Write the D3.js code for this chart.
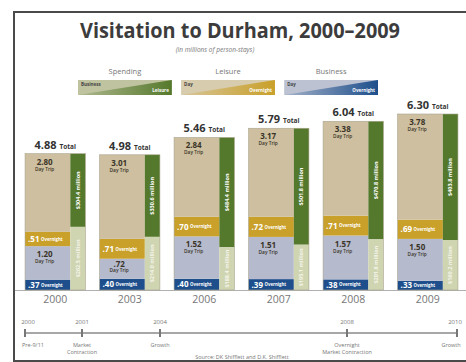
<!DOCTYPE html>
<html><head><meta charset="utf-8">
<script src="https://cdn.jsdelivr.net/npm/d3@7"></script>
<style>body{margin:0;background:#fff;overflow:hidden}svg{display:block}</style>
</head><body><svg id="c" width="466" height="362"></svg>
<script>
const years = ["2000","2003","2006","2007","2008","2009"];
const leisureDay = [2.80,3.01,2.84,3.17,3.38,3.78];
const leisureOvernight = [0.51,0.71,0.70,0.72,0.71,0.69];
const businessDay = [1.20,0.72,1.52,1.51,1.57,1.50];
const businessOvernight = [0.37,0.40,0.40,0.39,0.38,0.33];
const totals = ["4.88","4.98","5.46","5.79","6.04","6.30"];
const leisureSpending = [304.4,330.6,484.4,501.8,470.8,403.8];
const businessSpending = [262.5,214.0,188.4,195.1,201.8,160.2];
const timelineYears = [2000,2001,2004,2008,2010];
const timelineEvents = [["Pre-9/11"],["Market","Contraction"],["Growth"],["Overnight","Market Contraction"],["Growth"]];
const legendGroups = ["Spending","Leisure","Business"];
const legendTexts = [["Business","Leisure"],["Day","Overnight"],["Day","Overnight"]];

const C = {
  beige:"#cdbf9f", gold:"#c9a02a", greyblue:"#b5bacd", blue:"#1e4f8c",
  dgreen:"#55792c", lgreen:"#cfd5b1", text:"#3a3428", grey:"#666"
};
const FONT = "'Open Sans', 'Noto Sans', sans-serif";
const svg = d3.select("#c").style("font-family", FONT);

// frame (left, top, bottom edges)
const frame = svg.append("g").attr("stroke","#4a4a4a").attr("stroke-width",2);
frame.append("line").attr("x1",14).attr("x2",14).attr("y1",12).attr("y2",362);
frame.append("line").attr("x1",13).attr("x2",466).attr("y1",12).attr("y2",12);
frame.append("line").attr("x1",13).attr("x2",466).attr("y1",361).attr("y2",361);

// title
svg.append("text").attr("x",240).attr("y",38).attr("text-anchor","middle")
  .attr("font-size",21).attr("font-weight",700).attr("fill","#3c3c3c")
  .attr("textLength",320).attr("lengthAdjust","spacingAndGlyphs")
  .text("Visitation to Durham, 2000–2009");
svg.append("text").attr("x",215).attr("y",52).attr("text-anchor","middle")
  .attr("font-size",6.5).attr("font-style","italic").attr("fill","#777")
  .text("(in millions of person-stays)");

// legend
const defs = svg.append("defs");
const legendColors = [["#bfc3a0",C.dgreen],["#d8ccae",C.gold],["#bcc2d2",C.blue]];
const legendX = d3.scaleBand().domain(legendGroups).range([78,378]).paddingInner(0.09);
legendGroups.forEach((g,i)=>{
  const x0 = legendX(g), w = legendX.bandwidth(), y0 = 80, h = 15;
  const gid = "lg"+i;
  const grad = defs.append("linearGradient").attr("id",gid);
  grad.append("stop").attr("offset","0%").attr("stop-color",legendColors[i][1]).attr("stop-opacity",0.15);
  grad.append("stop").attr("offset","100%").attr("stop-color",legendColors[i][1]).attr("stop-opacity",1);
  svg.append("text").attr("x",x0+w/2).attr("y",74).attr("text-anchor","middle")
    .attr("font-size",7.5).attr("fill","#777").text(g);
  svg.append("rect").attr("x",x0).attr("y",y0).attr("width",w).attr("height",h)
    .attr("fill",legendColors[i][0]);
  svg.append("polygon").attr("points",`${x0},${y0+h} ${x0+w},${y0} ${x0+w},${y0+h}`)
    .attr("fill",`url(#${gid})`);
  svg.append("text").attr("x",x0+3).attr("y",y0+6).attr("font-size",4.5)
    .attr("font-weight",700).attr("fill","#444").text(legendTexts[i][0]);
  svg.append("text").attr("x",x0+w-3).attr("y",y0+h-3).attr("font-size",4.5)
    .attr("font-weight",700).attr("text-anchor","end").attr("fill","#fff").text(legendTexts[i][1]);
});

// scales
const x = d3.scaleBand().domain(years).range([17.6,465.4]).paddingInner(0.19).paddingOuter(0.1);
const y = d3.scaleLinear().domain([0,6.30]).range([290,114]);
const bw = x.bandwidth(), mainW = bw*0.75, sideW = bw - mainW;

const rows = years.map((yr,i)=>({year:yr, bo:businessOvernight[i], bd:businessDay[i], lo:leisureOvernight[i], ld:leisureDay[i], i}));
const keys = ["bo","bd","lo","ld"];
const fills = {bo:C.blue, bd:C.greyblue, lo:C.gold, ld:C.beige};
const series = d3.stack().keys(keys)(rows);

// baseline
svg.append("line").attr("x1",15).attr("x2",466).attr("y1",y(0)+0.5).attr("y2",y(0)+0.5)
  .attr("stroke","#b0b0b0").attr("stroke-width",1);

const fmt = v => d3.format(".2f")(v).replace(/^0/,"");

series.forEach(s=>{
  const k = s.key;
  s.forEach(d=>{
    const x0 = x(d.data.year), yt = y(d[1]), yb = y(d[0]);
    svg.append("rect").attr("x",x0).attr("y",yt).attr("width",mainW).attr("height",yb-yt)
      .attr("fill",fills[k]);
    const val = d.data[k];
    if (k==="ld" || k==="bd") {
      const cx = x0 + mainW/2 - 3;
      svg.append("text").attr("x",cx).attr("y",yt+ (yb-yt<25?8:11)).attr("text-anchor","middle")
        .attr("font-size",8).attr("font-weight",700).attr("fill",C.text).text(fmt(val));
      svg.append("text").attr("x",cx).attr("y",yt+(yb-yt<25?13.5:17)).attr("text-anchor","middle")
        .attr("font-size",4.8).attr("font-weight",600).attr("fill",C.text).text("Day Trip");
    } else {
      const cy = (yt+yb)/2;
      svg.append("text").attr("x",x0+3).attr("y",cy+3).attr("font-size",8)
        .attr("font-weight",700).attr("fill","#fff").text(fmt(val));
      svg.append("text").attr("x",x0+16).attr("y",cy+1.8).attr("font-size",4.3)
        .attr("font-weight",700).attr("fill","#fff").text("Overnight");
    }
  });
});

// spending columns + totals + years
rows.forEach((r,i)=>{
  const x0 = x(r.year) + mainW;
  const top = y(r.bo+r.bd+r.lo+r.ld), bot = y(0), h = bot-top;
  const f = leisureSpending[i]/(leisureSpending[i]+businessSpending[i]);
  const split = top + h*f;
  svg.append("rect").attr("x",x0).attr("y",top).attr("width",sideW).attr("height",split-top).attr("fill",C.dgreen);
  svg.append("rect").attr("x",x0).attr("y",split).attr("width",sideW).attr("height",bot-split).attr("fill",C.lgreen);
  const cx = x0 + sideW/2 + 2;
  svg.append("text").attr("transform",`translate(${cx},${(top+split)/2}) rotate(-90)`)
    .attr("text-anchor","middle").attr("font-size",5.5).attr("font-weight",700).attr("fill","#fff")
    .text("$"+d3.format(".1f")(leisureSpending[i])+" million");
  svg.append("text").attr("transform",`translate(${cx},${(split+bot)/2}) rotate(-90)`)
    .attr("text-anchor","middle").attr("font-size",5.5).attr("font-weight",700).attr("fill","#f4f4ea")
    .text("$"+d3.format(".1f")(businessSpending[i])+" million");
  // outline
  svg.append("rect").attr("x",x(r.year)).attr("y",top).attr("width",bw).attr("height",h)
    .attr("fill","none").attr("stroke","#a9a48f").attr("stroke-width",0.6);
  // total label
  const tl = svg.append("text").attr("x",x(r.year)+bw/2).attr("y",top-5).attr("text-anchor","middle").attr("fill","#333");
  tl.append("tspan").attr("font-size",11).attr("font-weight",700).text(totals[i]);
  tl.append("tspan").attr("font-size",6.5).attr("font-weight",700).attr("dx",3).text("Total");
  // year label
  svg.append("text").attr("x",x(r.year)+bw/2).attr("y",303).attr("text-anchor","middle")
    .attr("font-size",10.5).attr("fill","#777").text(r.year);
});

// timeline
const t = d3.scaleLinear().domain(timelineYears).range([25,82,160,347,457]);
svg.append("line").attr("x1",t(2000)).attr("x2",t(2010)).attr("y1",333).attr("y2",333)
  .attr("stroke","#8a8a8a").attr("stroke-width",1.5);
timelineYears.forEach((yr,i)=>{
  const tx = t(yr);
  svg.append("line").attr("x1",tx).attr("x2",tx).attr("y1",329).attr("y2",337)
    .attr("stroke","#777").attr("stroke-width",2);
  svg.append("text").attr("x",tx+ (i===0?3:(i===4?-2:0))).attr("y",324).attr("text-anchor","middle")
    .attr("font-size",6).attr("fill","#777").text(yr);
  timelineEvents[i].forEach((line,j)=>{
    svg.append("text").attr("x",tx+(i===0?8:(i===4?-6:0))).attr("y",347+j*6.5).attr("text-anchor","middle")
      .attr("font-size",5.5).attr("fill","#777").text(line);
  });
});
svg.append("text").attr("x",242).attr("y",359).attr("text-anchor","middle")
  .attr("font-size",5.5).attr("fill","#777").text("Source: DK Shifflett and D.K. Shifflett");
</script>
</body></html>
